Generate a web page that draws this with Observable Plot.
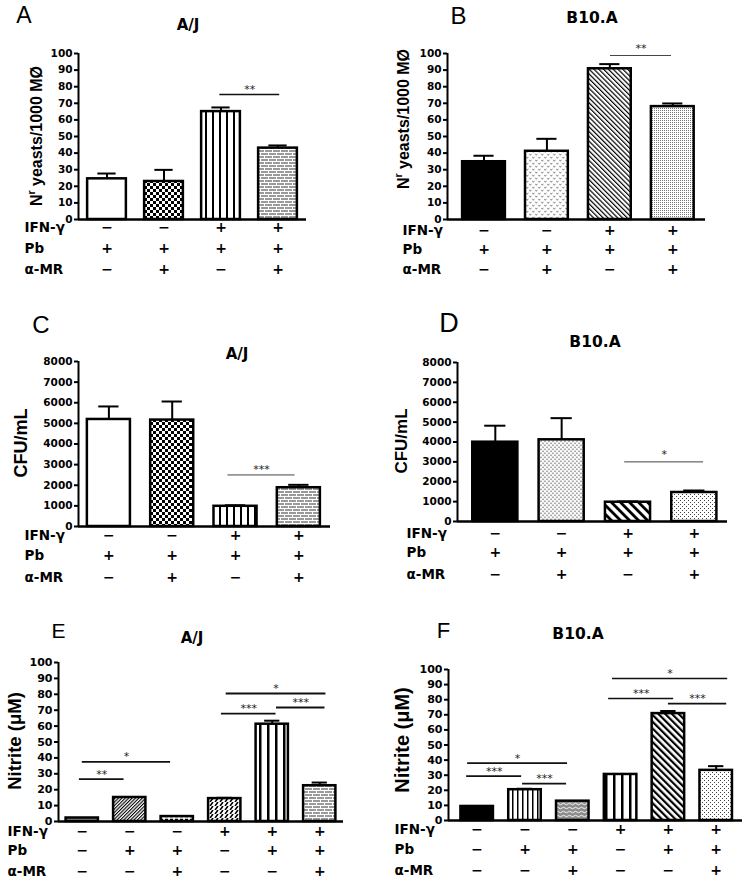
<!DOCTYPE html>
<html><head><meta charset="utf-8">
<script src="https://cdn.jsdelivr.net/npm/d3@7"></script>
<script src="https://cdn.jsdelivr.net/npm/@observablehq/plot@0.6"></script>
<style>
body{margin:0;background:#fff;}
#fig{position:relative;width:747px;height:887px;overflow:hidden;background:#fff;font-family:"DejaVu Sans",sans-serif;color:#000;}
.abs{position:absolute;white-space:nowrap;line-height:1;transform:translate(-50%,-50%);}
.letter{font-family:"Liberation Sans",Arial,sans-serif;font-weight:normal;}
.title{font-family:"DejaVu Sans",sans-serif;font-weight:bold;}
.ylab{font-family:"Liberation Sans",Arial,sans-serif;font-weight:bold;transform:translate(-50%,-50%) rotate(-90deg);}
.ylab sup{font-size:0.65em;}
.panel{position:absolute;}
</style></head><body>
<svg width="0" height="0" style="position:absolute">
<defs>
<pattern id="checker" width="6" height="6" patternUnits="userSpaceOnUse"><rect width="6" height="6" fill="#fff"/><rect width="3" height="3" fill="#000"/><rect x="3" y="3" width="3" height="3" fill="#000"/></pattern>
<pattern id="vs7" width="7" height="6" patternUnits="userSpaceOnUse"><rect width="7" height="6" fill="#fff"/><rect x="2" width="2" height="6" fill="#000"/></pattern>
<pattern id="vs8" width="8" height="6" patternUnits="userSpaceOnUse"><rect width="8" height="6" fill="#fff"/><rect x="3" width="2.5" height="6" fill="#000"/></pattern>
<pattern id="vs5" width="5" height="6" patternUnits="userSpaceOnUse"><rect width="5" height="6" fill="#fff"/><rect x="2" width="1.5" height="6" fill="#000"/></pattern>
<pattern id="brick" width="8" height="6" patternUnits="userSpaceOnUse"><rect width="8" height="6" fill="#9a9a9a"/><rect y="2" width="8" height="1" fill="#fff"/><rect y="5" width="8" height="1" fill="#fff"/><rect x="0" y="0" width="1" height="2" fill="#fff"/><rect x="4" y="3" width="1" height="2" fill="#fff"/></pattern>
<pattern id="vdots" width="6" height="6" patternUnits="userSpaceOnUse"><rect width="6" height="6" fill="#fff"/><path d="M0.3,0.8L1.3,2.3L2.3,0.8M3.3,3.8L4.3,5.3L5.3,3.8" stroke="#666" stroke-width="0.8" fill="none"/></pattern>
<pattern id="vdotsDense" width="4" height="4" patternUnits="userSpaceOnUse"><rect width="4" height="4" fill="#fff"/><path d="M0.2,0.5L1,1.8L1.8,0.5M2.2,2.5L3,3.8L3.8,2.5" stroke="#555" stroke-width="0.7" fill="none"/></pattern>
<pattern id="diagThin" width="3.4" height="6" patternUnits="userSpaceOnUse" patternTransform="rotate(-45)"><rect width="3.4" height="6" fill="#fff"/><rect width="1.2" height="6" fill="#000"/></pattern>
<pattern id="diagWide" width="6.4" height="6" patternUnits="userSpaceOnUse" patternTransform="rotate(-45)"><rect width="6.4" height="6" fill="#fff"/><rect width="2.8" height="6" fill="#000"/></pattern>
<pattern id="diagMid" width="4.8" height="6" patternUnits="userSpaceOnUse" patternTransform="rotate(-45)"><rect width="4.8" height="6" fill="#fff"/><rect width="2.2" height="6" fill="#000"/></pattern>
<pattern id="stipple" width="2" height="2" patternUnits="userSpaceOnUse"><rect width="2" height="2" fill="#fff"/><rect width="1" height="1" fill="#777"/></pattern>
<pattern id="sparse" width="4" height="4" patternUnits="userSpaceOnUse"><rect width="4" height="4" fill="#fff"/><rect width="1" height="1" fill="#444"/><rect x="2" y="2" width="1" height="1" fill="#444"/></pattern>
<pattern id="hatchFine" width="2.4" height="6" patternUnits="userSpaceOnUse" patternTransform="rotate(45)"><rect width="2.4" height="6" fill="#fff"/><rect width="1.1" height="6" fill="#000"/></pattern>
<pattern id="dash" width="5" height="3" patternUnits="userSpaceOnUse"><rect width="5" height="3" fill="#fff"/><rect y="0.75" width="3" height="1.5" fill="#000"/></pattern>
<pattern id="zigzag" width="5" height="4" patternUnits="userSpaceOnUse"><rect width="5" height="4" fill="#fff"/><path d="M0,4L3,0M5,4L8,0M-5,4L-2,0" stroke="#000" stroke-width="1.6" fill="none"/></pattern>
<pattern id="wavy" width="6" height="4" patternUnits="userSpaceOnUse"><rect width="6" height="4" fill="#8c8c8c"/><path d="M0,2Q1.5,0.5 3,2T6,2" stroke="#fff" stroke-width="0.9" fill="none"/></pattern>
</defs>
</svg>
<div id="fig"></div>
<script>
// ---------- data ----------
const rowLabels = ["IFN-γ", "Pb", "α-MR"];
const ifn4 = ["−", "−", "+", "+"];
const pb4  = ["+", "+", "+", "+"];
const amr4 = ["−", "+", "−", "+"];
const ifn6 = ["−", "−", "−", "+", "+", "+"];
const pb6  = ["−", "+", "+", "−", "+", "+"];
const amr6 = ["−", "−", "+", "−", "−", "+"];

const panelLetters = ["A", "B", "C", "D", "E", "F"];
const strains = ["A/J", "B10.A", "A/J", "B10.A", "A/J", "B10.A"];
const yLabels = ["N<sup>r</sup> yeasts/1000 MØ", "N<sup>r</sup> yeasts/1000 MØ", "CFU/mL", "CFU/mL", "Nitrite (μM)", "Nitrite (μM)"];

const aMean  = [24.5, 22.9, 65.0, 43.0];
const aUpper = [27.7, 29.9, 67.5, 44.6];
const bMean  = [34.8, 41.1, 90.8, 68.0];
const bUpper = [38.4, 48.6, 93.6, 69.9];
const cMean  = [5190, 5160, 980, 1880];
const cUpper = [5820, 6060, 1030, 2020];
const dMean  = [3990, 4110, 970, 1460];
const dUpper = [4820, 5200, 1010, 1560];
const eMean  = [2.2, 15.1, 3.1, 14.4, 61.2, 22.5];
const eUpper = [2.2, 15.1, 3.1, 14.9, 63.4, 24.5];
const fMean  = [9.3, 20.4, 12.8, 30.5, 70.8, 33.2];
const fUpper = [9.3, 21.0, 12.8, 30.5, 72.5, 36.0];

const aSig = [{from: 1.98, to: 3.03, y: 75.3, label: "**"}];
const bSig = [{from: 2.01, to: 2.98, y: 98.8, label: "**"}];
const cSig = [{from: 1.88, to: 2.94, y: 2500, label: "***"}];
const dSig = [{from: 1.95, to: 3.14, y: 3000, label: "*"}];
const eSig = [
  {from: -0.06, to: 0.88, y: 26.7, label: "**"},
  {from: 0.0, to: 1.86, y: 37.5, label: "*"},
  {from: 2.93, to: 4.08, y: 67.9, label: "***"},
  {from: 4.09, to: 5.11, y: 71.7, label: "***"},
  {from: 3.03, to: 5.13, y: 80.5, label: "*"}
];
const fSig = [
  {from: -0.22, to: 0.93, y: 29.4, label: "***"},
  {from: 0.95, to: 1.87, y: 24.4, label: "***"},
  {from: -0.2, to: 1.89, y: 38.0, label: "*"},
  {from: 2.75, to: 4.11, y: 80.8, label: "***"},
  {from: 4.0, to: 5.22, y: 77.4, label: "***"},
  {from: 2.83, to: 5.24, y: 94.0, label: "*"}
];

// ---------- styles ----------
const FILL = {
  open: "#fff", black: "#000", gray: "#8a8a8a",
  checker: "url(#checker)", vs7: "url(#vs7)", vs8: "url(#vs8)", vs5: "url(#vs5)", brick: "url(#brick)",
  vdots: "url(#vdots)", vdotsDense: "url(#vdotsDense)", diagThin: "url(#diagThin)", diagWide: "url(#diagWide)",
  diagMid: "url(#diagMid)", stipple: "url(#stipple)", sparse: "url(#sparse)", hatchFine: "url(#hatchFine)",
  dash: "url(#dash)", zigzag: "url(#zigzag)", wavy: "url(#wavy)"
};
const aFills = ["open", "checker", "vs7", "brick"];
const bFills = ["black", "vdots", "diagThin", "stipple"];
const cFills = ["open", "checker", "vs7", "brick"];
const dFills = ["black", "vdotsDense", "diagWide", "sparse"];
const eFills = ["gray", "hatchFine", "dash", "zigzag", "vs8", "brick"];
const fFills = ["black", "vs5", "wavy", "vs8", "diagMid", "sparse"];

// ---------- layout ----------
const panels = [
  {left: 0, top: 0, width: 370, height: 290, axisX: 78, topY: 53, zeroY: 219, rightX: 306, xlo: -0.5, xhi: 3.5, yMax: 100, yStep: 10,
   mean: aMean, upper: aUpper, fills: aFills, sig: aSig, rows: [ifn4, pb4, amr4], rowDy: [12, 33, 54], rowLabelX: 24,
   tickFont: 10.5, sigW: 1.6, sigColor: "#111", starDy: -5,
   letter: [24, 15, 23], title: [188, 25, 15], ylab: [36, 135.5, 16]},
  {left: 370, top: 0, width: 377, height: 290, axisX: 447, topY: 53, zeroY: 219, rightX: 705, xlo: -0.58, xhi: 3.52, yMax: 100, yStep: 10,
   mean: bMean, upper: bUpper, fills: bFills, sig: bSig, rows: [ifn4, pb4, amr4], rowDy: [15.5, 34.5, 54.5], rowLabelX: 402,
   tickFont: 10.5, sigW: 1, sigColor: "#444", starDy: -7,
   letter: [458.5, 16, 24], title: [592, 18.5, 15.5], ylab: [402.5, 118.5, 16]},
  {left: 0, top: 290, width: 370, height: 300, axisX: 78, topY: 361, zeroY: 526, rightX: 330, xlo: -0.48, xhi: 3.5, yMax: 8000, yStep: 1000,
   mean: cMean, upper: cUpper, fills: cFills, sig: cSig, rows: [ifn4, pb4, amr4], rowDy: [13, 33, 55], rowLabelX: 24,
   tickFont: 10.5, sigW: 1, sigColor: "#444", starDy: -5,
   letter: [41, 324.5, 24], title: [237, 354, 15], ylab: [20.5, 443, 18]},
  {left: 370, top: 290, width: 377, height: 300, axisX: 457, topY: 362, zeroY: 521, rightX: 727, xlo: -0.57, xhi: 3.5, yMax: 8000, yStep: 1000,
   mean: dMean, upper: dUpper, fills: dFills, sig: dSig, rows: [ifn4, pb4, amr4], rowDy: [16, 35.5, 57], rowLabelX: 406,
   tickFont: 10.5, sigW: 1, sigColor: "#444", starDy: -7,
   letter: [449, 323, 27], title: [595, 343, 15.5], ylab: [400.5, 440.5, 17]},
  {left: 0, top: 590, width: 370, height: 297, axisX: 58, topY: 662, zeroY: 821, rightX: 343, xlo: -0.5, xhi: 5.5, yMax: 100, yStep: 10,
   mean: eMean, upper: eUpper, fills: eFills, sig: eSig, rows: [ifn6, pb6, amr6], rowDy: [14.5, 33.5, 54], rowLabelX: 7,
   tickFont: 11, sigW: 1.8, sigColor: "#111", starDy: -5,
   letter: [58.5, 629.5, 21], title: [192, 638, 15], ylab: [15, 741, 18.5]},
  {left: 370, top: 590, width: 377, height: 297, axisX: 448, topY: 669, zeroY: 820, rightX: 742, xlo: -0.6, xhi: 5.55, yMax: 100, yStep: 10,
   mean: fMean, upper: fUpper, fills: fFills, sig: fSig, rows: [ifn6, pb6, amr6], rowDy: [13.5, 33.5, 54], rowLabelX: 394,
   tickFont: 11, sigW: 1.6, sigColor: "#111", starDy: -5,
   letter: [443.5, 631, 22], title: [578, 635, 15.5], ylab: [402, 740, 20]}
];

const fig = document.getElementById("fig");

function drawPanel(p) {
  const bars = p.mean.map((m, i) => ({i, mean: m, upper: p.upper[i], fill: FILL[p.fills[i]]}));
  const errs = bars.filter(d => d.upper > d.mean);
  const hw = 0.34, cap = 0.16;
  const ticks = d3.range(0, p.yMax + p.yStep / 2, p.yStep);
  const marks = [
    Plot.rect(bars, {x1: d => d.i - hw, x2: d => d.i + hw, y1: 0, y2: "mean", fill: "fill", stroke: "#000", strokeWidth: 2.5}),
    Plot.ruleX(errs, {x: "i", y1: "mean", y2: "upper", stroke: "#000", strokeWidth: 2}),
    Plot.ruleY(errs, {x1: d => d.i - cap, x2: d => d.i + cap, y: "upper", stroke: "#000", strokeWidth: 2}),
    Plot.ruleX([p.xlo], {stroke: "#000", strokeWidth: 2}),
    Plot.ruleY([0], {stroke: "#000", strokeWidth: 2.5}),
    Plot.axisY({ticks, tickSize: 4, tickPadding: 2, tickFormat: d => String(d), fontSize: p.tickFont, fontWeight: "bold", label: null, strokeWidth: 2}),
    Plot.ruleY(p.sig, {x1: "from", x2: "to", y: "y", stroke: p.sigColor, strokeWidth: p.sigW}),
    Plot.text(p.sig, {x: d => (d.from + d.to) / 2, y: "y", text: "label", dy: p.starDy, fontSize: 11, fill: "#222"})
  ];
  p.rows.forEach((row, r) => {
    marks.push(Plot.text(row, {x: (d, i) => i, text: d => d, frameAnchor: "bottom", dy: p.rowDy[r], fontSize: 14, fontWeight: "bold"}));
    marks.push(Plot.text([rowLabels[r]], {text: d => d, frameAnchor: "bottom-left", dx: p.rowLabelX - p.axisX, dy: p.rowDy[r], textAnchor: "start", fontSize: 13.5, fontWeight: "bold"}));
  });
  const svg = Plot.plot({
    width: p.width, height: p.height,
    marginLeft: p.axisX - p.left, marginRight: p.left + p.width - p.rightX,
    marginTop: p.topY - p.top, marginBottom: p.top + p.height - p.zeroY,
    x: {type: "linear", domain: [p.xlo, p.xhi], axis: null},
    y: {domain: [0, p.yMax]},
    color: {type: "identity"},
    style: {fontFamily: '"DejaVu Sans", sans-serif', background: "transparent", overflow: "visible", color: "#000"},
    marks
  });
  const wrap = document.createElement("div");
  wrap.className = "panel";
  wrap.style.left = p.left + "px";
  wrap.style.top = p.top + "px";
  wrap.appendChild(svg);
  fig.appendChild(wrap);
}

function addText(cls, html, x, y, size) {
  const el = document.createElement("div");
  el.className = "abs " + cls;
  el.innerHTML = html;
  el.style.left = x + "px";
  el.style.top = y + "px";
  el.style.fontSize = size + "px";
  fig.appendChild(el);
}

panels.forEach((p, k) => {
  drawPanel(p);
  addText("letter", panelLetters[k], p.letter[0], p.letter[1], p.letter[2]);
  addText("title", strains[k], p.title[0], p.title[1], p.title[2]);
  addText("ylab", yLabels[k], p.ylab[0], p.ylab[1], p.ylab[2]);
});
</script>
</body></html>
